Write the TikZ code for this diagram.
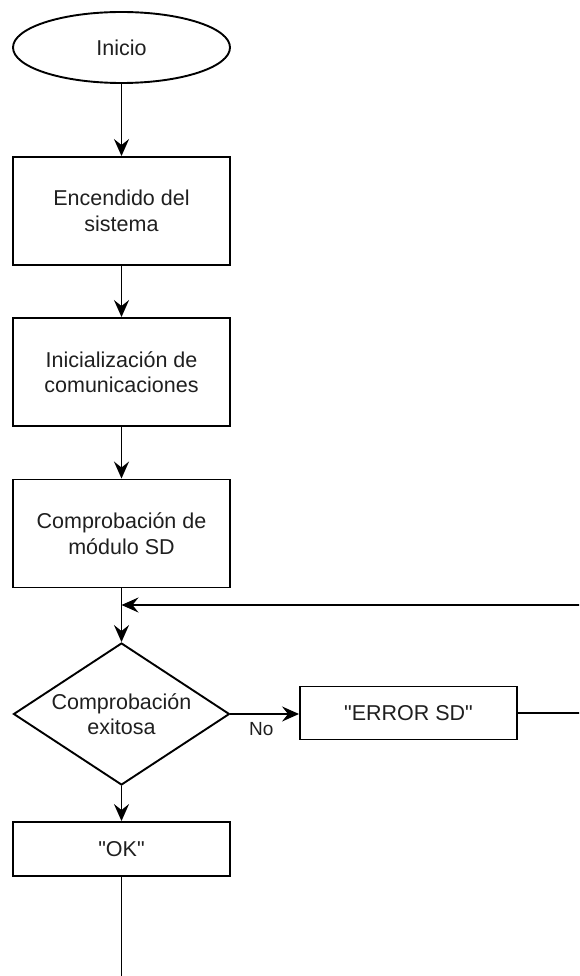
\documentclass[tikz,border=0pt]{standalone}
\usepackage{fontspec}
\setmainfont{Liberation Sans}[Ligatures=TeXOff]
\usetikzlibrary{shapes.geometric,arrows.meta}
\begin{document}
\begin{tikzpicture}[x=1pt,y=-1pt,
  every node/.style={font=\fontsize{21.5}{25.5}\selectfont, text=black!88},
  stepbox/.style={draw, line width=1.9pt, rectangle, minimum width=217pt,
    minimum height=108pt, inner sep=0pt, align=center},
  slimbox/.style={stepbox, minimum height=53pt},
  startnode/.style={draw, line width=1.9pt, ellipse, minimum width=217pt,
    minimum height=71pt, inner sep=0pt},
  decision/.style={draw, line width=1.9pt, diamond, minimum width=216pt,
    minimum height=142pt, inner sep=0pt},
  link/.style={line width=1.9pt, -{Stealth[length=17pt,width=15pt,inset=6pt]}},
  plain/.style={line width=1.9pt}
]
% page frame, everything beyond it is cut away
\path[use as bounding box, clip] (0,0) rectangle (579,976);

% blocks
\node[startnode] (inicio) at (121.5,47.5) {Inicio};
\node[stepbox] (encendido) at (121.5,211) {Encendido del\\sistema};
\node[stepbox] (comunic) at (121.5,372) {Inicialización de\\comunicaciones};
\node[stepbox] (modsd) at (121.5,533.5) {Comprobación de\\módulo SD};
\node[decision] (check) at (121.5,714) {};
\node[align=center, inner sep=0pt] (checktxt) at (check.center) {Comprobación\\exitosa};
\node[slimbox] (error) at (408.5,713) {"ERROR SD"};
\node[slimbox, minimum height=54pt] (ok) at (121.5,849) {"OK"};

% auxiliary points
\coordinate (join) at (121.5,605);
\coordinate (edgeR) at (600,713);
\coordinate (edgeT) at (600,605);
\coordinate (bottom) at (121.5,990);

% main chain
\draw[link] (inicio) -- (encendido);
\draw[link] (encendido) -- (comunic);
\draw[link] (comunic) -- (modsd);
\draw[link] (modsd) -- (check);
\draw[link] (check) -- (ok);
\draw[plain] (ok) -- (bottom);

% failure branch and retry loop
\draw[link] (check.east) -- node[below, pos=0.45, yshift=-4pt, font=\fontsize{19}{22}\selectfont] (nolabel) {No} (error.west |- check.east);
\draw[plain] (error.east) -- (edgeR) -- (edgeT);
\draw[link] (edgeT) -- (join);
\end{tikzpicture}
\end{document}
